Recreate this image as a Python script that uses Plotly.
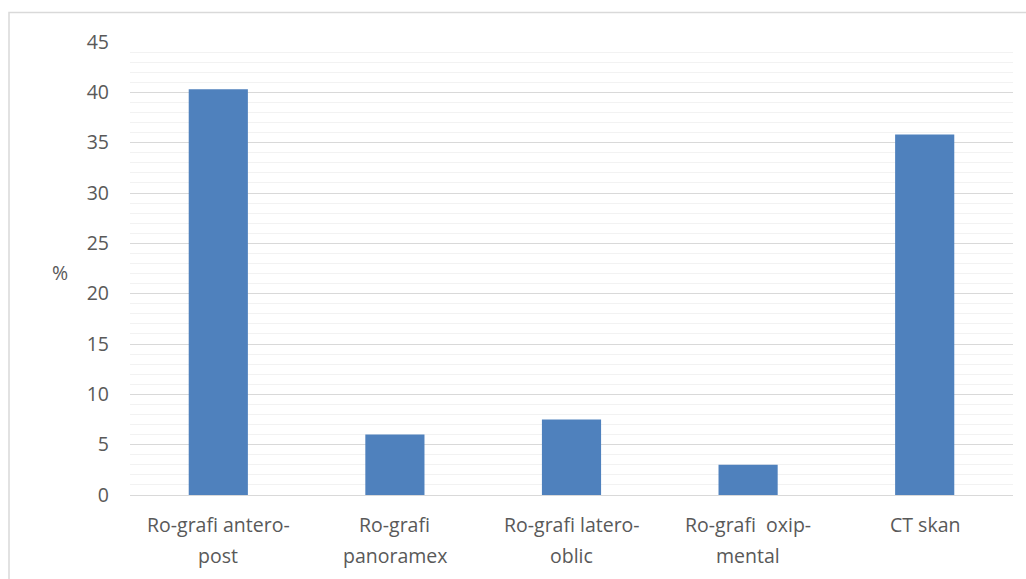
import plotly.graph_objects as go

# Imaging methods and their share (%)
categories = [
    "Ro-grafi antero-<br>post",
    "Ro-grafi<br>panoramex",
    "Ro-grafi latero-<br>oblic",
    "Ro-grafi  oxip-<br>mental",
    "CT skan",
]
percent = [40.3, 6.0, 7.5, 3.0, 35.8]
y_ticks = [0, 5, 10, 15, 20, 25, 30, 35, 40, 45]

FONT = "Open Sans, Lato, sans-serif"
TEXT = "#595959"
SIZE = 19.5

# plot area in pixels
L, R, T, B = 130, 13, 42, 84
W, H = 1026, 579
PW, PH = W - L - R, H - T - B


def py(px):
    """pixel row -> paper y"""
    return (H - B - px) / PH


fig = go.Figure(
    go.Bar(
        x=categories,
        y=percent,
        marker=dict(color="#4F81BD", line=dict(width=0)),
        width=0.335,
        hoverinfo="x+y",
    )
)

annotations = [
    dict(
        text="%",
        xref="paper",
        yref="paper",
        x=(60 - L) / PW,
        y=py(272),
        showarrow=False,
        xanchor="center",
        yanchor="middle",
        font=dict(family=FONT, size=SIZE, color=TEXT),
    )
]
# category labels, two lines each
for cat in categories:
    for i, line in enumerate(cat.split("<br>")):
        annotations.append(
            dict(
                text=line.replace("  ", "&nbsp; "),
                xref="x",
                yref="paper",
                x=cat,
                y=py(524 + 31 * i),
                showarrow=False,
                xanchor="center",
                yanchor="middle",
                font=dict(family=FONT, size=SIZE, color=TEXT),
            )
        )

fig.update_layout(
    width=W,
    height=H,
    margin=dict(l=L, r=R, t=T, b=B),
    paper_bgcolor="white",
    plot_bgcolor="white",
    showlegend=False,
    font=dict(family=FONT, size=SIZE, color=TEXT),
    xaxis=dict(
        showgrid=False,
        showline=False,
        zeroline=False,
        ticks="",
        showticklabels=False,
    ),
    yaxis=dict(
        range=[0, 45],
        tickvals=y_ticks,
        showgrid=True,
        gridcolor="#D9D9D9",
        gridwidth=1,
        minor=dict(dtick=1, showgrid=True, gridcolor="#F2F2F2", gridwidth=1),
        zeroline=True,
        zerolinecolor="#D9D9D9",
        zerolinewidth=1,
        showline=False,
        ticks="",
        ticklabelstandoff=20,
        tickfont=dict(family=FONT, size=SIZE, color=TEXT),
    ),
    annotations=annotations,
    shapes=[
        # chart frame, open to the right and bottom
        dict(
            type="rect",
            xref="paper",
            yref="paper",
            x0=(9 - L) / PW,
            x1=1.2,
            y0=-0.5,
            y1=py(12.5),
            line=dict(color="#D9D9D9", width=1.5),
            fillcolor="rgba(0,0,0,0)",
            layer="below",
        )
    ],
)

fig.write_html("out.html")
